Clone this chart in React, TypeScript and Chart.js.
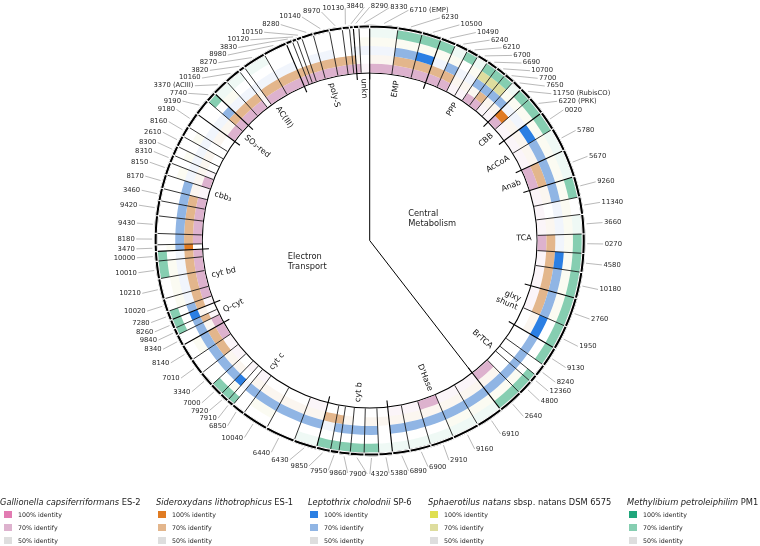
import React, { useEffect, useRef } from "react";
import { Chart, registerables } from "chart.js";

Chart.register(...registerables);

// ---------- data ----------
const geneLabels = [
  "6710 (EMP)", "6230", "10500", "10490", "6240", "6210", "6700", "6690", "10700", "7700",
  "7650", "11750 (RubisCO)", "6220 (PRK)", "0020", "5780", "5670", "9260", "11340", "3660", "0270",
  "4580", "10180", "2760", "1950", "9130", "8240", "12360", "4800", "2640", "6910",
  "9160", "2910", "6900", "6890", "5380", "4320", "7900", "9860", "7950", "9850",
  "6430", "6440", "10040", "6850", "7910", "7920", "7000", "3340", "7010", "8140",
  "8340", "9840", "8260", "7280", "10020", "10210", "10010", "10000", "3470", "8180",
  "9430", "9420", "3460", "8170", "8150", "8310", "8300", "2610", "8160", "9180",
  "9190", "7740", "3370 (ACIII)", "10160", "3820", "8270", "8980", "3830", "10120", "10150",
  "8280", "10140", "8970", "10130", "3840", "8290", "8330",
];

const geneSizes = [
  7.6, 6.65, 5.25, 4.2, 3.55, 3.15, 3.05, 3.0, 2.85, 2.85,
  2.85, 3.45, 4.95, 5.25, 6.45, 7.55, 5.6, 4.7, 5.3, 5.2,
  5.1, 7.1, 8.0, 6.6, 5.4, 3.4, 2.2, 4.2, 6.8, 7.35,
  7.35, 6.45, 5.75, 4.7, 3.7, 3.95, 3.75, 3.05, 2.3, 3.8,
  6.3, 8.1, 7.3, 3.65, 1.85, 2.45, 3.5, 4.15, 4.4, 4.6,
  3.1, 1.95, 2.45, 2.45, 3.5, 5.55, 4.75, 2.6, 1.8, 3.05,
  4.75, 4.1, 3.35, 3.8, 3.4, 2.2, 2.6, 3.05, 2.9, 4.2,
  4.45, 2.8, 4.5, 4.4, 1.7, 6.35, 6.55, 1.75, 1.25, 1.45,
  3.2, 4.45, 3.5, 1.95, 1.05, 1.5, 2.9,
];

const categoryNames = [
  "EMP", "PPP", "CBB", "AcCoA", "Anab", "TCA", "glxy\nshunt", "BrTCA",
  "D'Hase", "cyt b", "cyt c", "Q-cyt", "cyt bd", "cbb₃", "SO₃-red", "AC(III)", "poly-S", "unkn",
];
const categoryGeneCounts = [3, 8, 2, 2, 1, 6, 2, 5, 5, 6, 10, 3, 5, 12, 2, 5, 8, 2];

const groupNames = ["Central\nMetabolism", "Electron\nTransport"];
const groupCategoryCounts = [8, 10];

// identity level per gene: 0 none, 1 weak hits, 2 = 70% identity, 3 = 100% identity
const methylibium = [
  1, 2, 2, 2, 1, 2, 1, 2, 2, 2, 1, 2, 2, 2, 1, 1, 2, 0, 1, 2,
  2, 2, 2, 2, 2, 0, 2, 2, 2, 1, 1, 1, 1, 1, 1, 2, 2, 2, 2, 2,
  1, 0, 0, 0, 2, 2, 2, 0, 0, 0, 0, 2, 2, 2, 0, 0, 2, 2, 0, 0,
  0, 0, 0, 0, 0, 0, 0, 0, 0, 0, 0, 2, 1, 1, 0, 1, 0, 0, 0, 0,
  0, 0, 0, 0, 0, 0, 0,
];
const sphaerotilus = [
  1, 1, 1, 1, 1, 0, 1, 2, 2, 2, 1, 1, 1, 1, 1, 1, 1, 1, 1, 1,
  1, 1, 1, 0, 0, 0, 0, 1, 1, 1, 1, 0, 0, 0, 0, 0, 0, 0, 0, 0,
  0, 0, 1, 0, 0, 1, 0, 0, 0, 1, 0, 0, 0, 0, 1, 1, 1, 0, 1, 0,
  0, 0, 0, 0, 1, 0, 1, 0, 1, 0, 0, 0, 1, 0, 0, 0, 0, 0, 0, 0,
  0, 0, 0, 0, 0, 0, 1,
];
const leptothrix = [
  1, 2, 3, 1, 2, 1, 1, 2, 2, 2, 2, 1, 1, 3, 2, 2, 2, 1, 1, 1,
  3, 2, 2, 3, 2, 2, 2, 2, 2, 2, 2, 2, 2, 2, 0, 2, 2, 2, 2, 1,
  2, 2, 2, 2, 1, 3, 2, 2, 2, 2, 2, 2, 3, 2, 1, 1, 1, 1, 2, 2,
  2, 2, 2, 2, 1, 1, 1, 1, 1, 1, 1, 2, 1, 1, 1, 1, 1, 0, 0, 0,
  1, 1, 0, 0, 1, 1, 1,
];
const sideroxydans = [
  1, 2, 2, 2, 2, 1, 1, 1, 2, 1, 1, 3, 1, 1, 1, 2, 1, 0, 1, 2,
  2, 2, 2, 1, 0, 0, 0, 0, 1, 1, 1, 1, 1, 1, 1, 1, 0, 1, 2, 2,
  1, 1, 1, 1, 0, 0, 1, 1, 2, 2, 1, 2, 1, 2, 2, 2, 2, 2, 3, 2,
  2, 2, 2, 1, 1, 1, 1, 1, 0, 1, 1, 2, 2, 2, 1, 2, 2, 2, 2, 2,
  2, 2, 2, 2, 2, 1, 0,
];
const gallionella = [
  2, 2, 2, 2, 2, 1, 1, 2, 2, 1, 1, 2, 1, 1, 1, 2, 1, 1, 1, 2,
  1, 1, 1, 0, 0, 0, 0, 0, 2, 1, 1, 2, 1, 1, 0, 0, 0, 0, 0, 0,
  1, 0, 0, 1, 0, 1, 0, 1, 1, 2, 2, 1, 0, 1, 2, 2, 2, 2, 0, 2,
  2, 2, 2, 1, 2, 1, 0, 0, 0, 0, 2, 2, 2, 2, 1, 2, 2, 2, 2, 2,
  2, 2, 2, 2, 2, 2, 1,
];

// legend order
const speciesItalic = [
  "Gallionella capsiferriformans",
  "Sideroxydans lithotrophicus",
  "Leptothrix cholodnii",
  "Sphaerotilus natans",
  "Methylibium petroleiphilim",
];
const speciesStrain = [" ES-2", " ES-1", " SP-6", " sbsp. natans DSM 6575", " PM1"];
const color100 = ["#e27bb2", "#e07b22", "#2b7fe3", "#dfdf50", "#1fa67b"];
const color70 = ["#ddb2ce", "#e3b68c", "#90b5e4", "#dedd9e", "#86ceb1"];
const color50 = "#dedede";
const legendEntryLabels = ["100% identity", "70% identify", "50% identity"];
const trackLevels = [gallionella, sideroxydans, leptothrix, sphaerotilus, methylibium];

// ---------- helpers ----------
function rgba(hex: string, a: number) {
  const v = parseInt(hex.slice(1), 16);
  return `rgba(${(v >> 16) & 255},${(v >> 8) & 255},${v & 255},${a})`;
}
function levelColor(level: number, s: number) {
  if (level === 3) return color100[s];
  if (level === 2) return color70[s];
  if (level === 1) return rgba(color70[s], 0.13);
  return "rgba(255,255,255,0)";
}

const FONT = '"DejaVu Sans", "Noto Sans", sans-serif';

const overlayPlugin = {
  id: "circosOverlay",
  afterDatasetsDraw(chart: any) {
    const ctx: CanvasRenderingContext2D = chart.ctx;
    const ringArcs = chart.getDatasetMeta(0).data as any[];
    const arcs = chart.getDatasetMeta(1).data as any[];
    const innerArcs = chart.getDatasetMeta(5).data as any[];
    const cx = arcs[0].x;
    const cy = arcs[0].y;
    const rTop = arcs[0].outerRadius;
    const rIn = innerArcs[0].innerRadius;
    const rRing = ringArcs[0].outerRadius;

    const catStart: number[] = [];
    let k = 0;
    categoryGeneCounts.forEach((c) => {
      catStart.push(k);
      k += c;
    });
    const catSet = new Set(catStart);
    const groupStart: number[] = [];
    let g = 0;
    groupCategoryCounts.forEach((c) => {
      groupStart.push(catStart[g]);
      g += c;
    });

    ctx.save();
    // gene boundaries
    ctx.strokeStyle = "#000";
    arcs.forEach((arc, i) => {
      const a = arc.startAngle;
      const isCat = catSet.has(i);
      const r0 = isCat ? rIn - 7 : rIn;
      ctx.lineWidth = isCat ? 1.1 : 0.8;
      ctx.beginPath();
      ctx.moveTo(cx + r0 * Math.cos(a), cy + r0 * Math.sin(a));
      ctx.lineTo(cx + rTop * Math.cos(a), cy + rTop * Math.sin(a));
      ctx.stroke();
    });

    // group dividing lines from centre
    ctx.lineWidth = 1;
    groupStart.forEach((gi) => {
      const a = arcs[gi].startAngle;
      ctx.beginPath();
      ctx.moveTo(cx, cy);
      ctx.lineTo(cx + rIn * Math.cos(a), cy + rIn * Math.sin(a));
      ctx.stroke();
    });

    // group labels
    ctx.fillStyle = "#222";
    ctx.font = `8.3px ${FONT}`;
    ctx.textBaseline = "middle";
    ctx.textAlign = "left";
    let gc = 0;
    groupNames.forEach((name, gi) => {
      const first = catStart[gc];
      const lastCat = gc + groupCategoryCounts[gi] - 1;
      const last = catStart[lastCat] + categoryGeneCounts[lastCat] - 1;
      gc += groupCategoryCounts[gi];
      const a = (arcs[first].startAngle + arcs[last].endAngle) / 2;
      const px = cx + 66 * Math.cos(a);
      const py = cy + 66 * Math.sin(a);
      const lines = name.split("\n");
      const mw = Math.max(...lines.map((l) => ctx.measureText(l).width));
      lines.forEach((l, li) => ctx.fillText(l, px - mw / 2, py + (li - (lines.length - 1) / 2) * 10));
    });

    // category labels
    ctx.font = `8px ${FONT}`;
    ctx.fillStyle = "#111";
    categoryNames.forEach((name, ci) => {
      const s = arcs[catStart[ci]].startAngle;
      const e = arcs[catStart[ci] + categoryGeneCounts[ci] - 1].endAngle;
      const a = (s + e) / 2;
      const deg = ((((a + Math.PI / 2) * 180) / Math.PI) % 360 + 360) % 360;
      const right = deg < 180;
      const rT = rIn - 6;
      ctx.save();
      ctx.translate(cx + rT * Math.cos(a), cy + rT * Math.sin(a));
      ctx.rotate(right ? a : a + Math.PI);
      ctx.textAlign = right ? "right" : "left";
      ctx.textBaseline = "middle";
      const lines = name.split("\n");
      lines.forEach((l, li) => ctx.fillText(l, 0, (li - (lines.length - 1) / 2) * 9));
      ctx.restore();
    });

    // gene labels with simple repulsion
    ctx.font = `6.8px ${FONT}`;
    const n = arcs.length;
    const anchors = arcs.map((a) => (((a.startAngle + a.endAngle) / 2 + Math.PI / 2) * 180) / Math.PI);
    const widths = geneLabels.map((l) => ctx.measureText(l).width);
    const pos = anchors.slice();
    const RL = rRing + 18;
    const H = 7.6;
    const GAP = 2;
    const box = (i: number) => {
      const d = pos[i];
      const rad = (d * Math.PI) / 180;
      const x = cx + RL * Math.sin(rad);
      const y = cy - RL * Math.cos(rad);
      const nd = ((d % 360) + 360) % 360;
      return nd < 180
        ? [x + 1, x + 1 + widths[i], y - H / 2, y + H / 2]
        : [x - 1 - widths[i], x - 1, y - H / 2, y + H / 2];
    };
    const overlaps = (A: number[], B: number[]) =>
      A[0] < B[1] + GAP && B[0] < A[1] + GAP && A[2] < B[3] && B[2] < A[3];
    for (let it = 0; it < 5000; it++) {
      let moved = false;
      for (let i = 0; i < n; i++) {
        for (let m = 1; m <= 2; m++) {
          const j = (i + m) % n;
          if (overlaps(box(i), box(j))) {
            pos[i] -= 0.04;
            pos[j] += 0.04;
            moved = true;
          }
        }
      }
      if (!moved) break;
    }

    ctx.strokeStyle = "#8a8a8a";
    ctx.lineWidth = 0.6;
    ctx.fillStyle = "#2a2a2a";
    ctx.textBaseline = "middle";
    for (let i = 0; i < n; i++) {
      const a0 = (anchors[i] * Math.PI) / 180;
      const a1 = (pos[i] * Math.PI) / 180;
      const r0 = rRing + 1.5;
      ctx.beginPath();
      ctx.moveTo(cx + r0 * Math.sin(a0), cy - r0 * Math.cos(a0));
      ctx.lineTo(cx + (RL - 0.5) * Math.sin(a1), cy - (RL - 0.5) * Math.cos(a1));
      ctx.stroke();
      const x = cx + RL * Math.sin(a1);
      const y = cy - RL * Math.cos(a1);
      const nd = ((pos[i] % 360) + 360) % 360;
      if (nd < 180) {
        ctx.textAlign = "left";
        ctx.fillText(geneLabels[i], x + 1, y);
      } else {
        ctx.textAlign = "right";
        ctx.fillText(geneLabels[i], x - 1, y);
      }
    }
    ctx.restore();
  },
};

const legendTitleX = [0, 156, 308, 428, 627];
const legendRowY = [514.5, 527.5, 540.5];

export default function App() {
  const canvasRef = useRef<HTMLCanvasElement | null>(null);

  useEffect(() => {
    document.body.style.margin = "0";
    const canvas = canvasRef.current;
    if (!canvas) return;
    // ring datasets, outer -> inner: Methylibium, Sphaerotilus, Leptothrix, Sideroxydans, Gallionella
    const ringOrder = [4, 3, 2, 1, 0];
    const trackDatasets = ringOrder.map((s) => ({
      data: geneSizes,
      backgroundColor: trackLevels[s].map((lv) => levelColor(lv, s)),
      borderWidth: 0,
      weight: 9,
    }));
    const chart = new Chart(canvas, {
      type: "doughnut",
      data: {
        labels: geneLabels,
        datasets: [
          {
            data: geneSizes,
            backgroundColor: "#000",
            borderColor: "#fff",
            borderWidth: 0.6,
            borderAlign: "inner",
            weight: 4,
          } as any,
          ...trackDatasets,
          { data: [1], backgroundColor: "#000", borderWidth: 0, weight: 1.1 } as any,
        ],
      },
      options: {
        responsive: false,
        animation: false,
        events: [],
        cutout: 166.9,
        layout: { padding: { left: 153.7, right: 174.3, top: 24.5, bottom: 89.5 } },
        plugins: { legend: { display: false }, tooltip: { enabled: false } },
      } as any,
      plugins: [overlayPlugin],
    });
    return () => chart.destroy();
  }, []);

  return (
    <div
      style={{
        position: "fixed",
        left: 0,
        top: 0,
        width: 760,
        height: 546,
        background: "#fff",
        overflow: "hidden",
        fontFamily: FONT,
        color: "#222",
      }}
    >
      <canvas ref={canvasRef} width={760} height={546} style={{ position: "absolute", left: 0, top: 0 }} />
      {speciesItalic.map((sp, s) => (
        <React.Fragment key={sp}>
          <div
            style={{
              position: "absolute",
              left: legendTitleX[s],
              top: 497,
              fontSize: "8.3px",
              lineHeight: "10px",
              whiteSpace: "nowrap",
            }}
          >
            <span style={{ fontStyle: "italic" }}>{sp}</span>
            <span>{speciesStrain[s]}</span>
          </div>
          {legendEntryLabels.map((lab, r) => (
            <React.Fragment key={lab}>
              <div
                style={{
                  position: "absolute",
                  left: legendTitleX[s] + (s === 0 ? 4 : 2),
                  top: legendRowY[r] - 3.5,
                  width: 8,
                  height: 7,
                  background: r === 0 ? color100[s] : r === 1 ? color70[s] : color50,
                }}
              />
              <div
                style={{
                  position: "absolute",
                  left: legendTitleX[s] + (s === 0 ? 4 : 2) + 14,
                  top: legendRowY[r] - 4,
                  fontSize: "6.3px",
                  lineHeight: "8px",
                  whiteSpace: "nowrap",
                }}
              >
                {lab}
              </div>
            </React.Fragment>
          ))}
        </React.Fragment>
      ))}
    </div>
  );
}
